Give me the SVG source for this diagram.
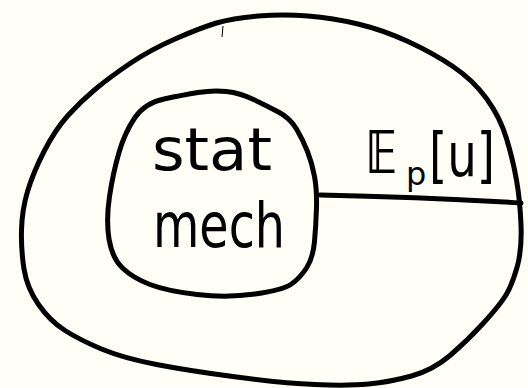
<svg xmlns="http://www.w3.org/2000/svg" width="528" height="388" viewBox="0 0 528 388">
  <style>
    .ink { fill: none; stroke: #000; stroke-width: 5; stroke-linecap: round; stroke-linejoin: round; }
    .hand { font-family: "DejaVu Sans", "Liberation Sans", sans-serif; fill: #000; }
  </style>
  <rect width="528" height="388" fill="#fffff8"/>

  <!-- outer region -->
  <g id="outer">
    <path class="ink" d="M216.5,23 Q233,18 258,16 Q283,14 308,16 Q333,18 358,24 Q383,30 408,41.5 Q433,53 453,66.5 Q473,80 486.5,98.5 Q500,117 506.5,138.5 Q513,160 516.5,180 Q520,200 521,225 Q522,250 517,267.5 Q512,285 506,295 Q500,305 483.5,323 Q467,341 450,355.5 Q433,370 411.5,376 Q390,382 368.5,384 Q347,386 315,384.5 Q283,383 236.5,377 Q190,371 156.5,364.5 Q123,358 101.5,349 Q80,340 65,330.5 Q50,321 38.5,304.5 Q27,288 24,269 Q21,250 21.5,230 Q22,210 27.5,191.5 Q33,173 44,151.5 Q55,130 67.5,116 Q80,102 95,89.5 Q110,77 130,63.5 Q150,50 175,39 Q200,28 216.5,23 Z"/>
    <path d="M223,26 L222,37" stroke="#000" stroke-width="1" fill="none"/>
  </g>

  <!-- inner region -->
  <g id="inner">
    <path class="ink" d="M198,92.5 Q213,90 226.5,91.5 Q240,93 253.5,99.5 Q267,106 278.5,112 Q290,118 296.5,129 Q303,140 307.5,151.5 Q312,163 314.5,176.5 Q317,190 316.5,207.5 Q316,225 314.5,241.5 Q313,258 306.5,268 Q300,278 291.5,284 Q283,290 255,294 Q227,298 197,294.5 Q167,291 150,284.5 Q133,278 122.5,268 Q112,258 109,239 Q106,220 109.5,196.5 Q113,173 119,152.5 Q125,132 135,117.5 Q145,103 164,99 Q183,95 198,92.5 Z"/>
    <text class="hand" x="152" y="170" font-size="58" textLength="120" lengthAdjust="spacingAndGlyphs">stat</text>
    <text class="hand" x="153" y="247" font-size="62" textLength="132" lengthAdjust="spacingAndGlyphs">mech</text>
  </g>

  <!-- divider between the rings -->
  <g id="connectors">
    <path class="ink" d="M320,195 Q420,197 521,203"/>
  </g>

  <!-- expectation label -->
  <g id="expectation">
    <text class="hand" x="366" y="173" font-size="58" font-weight="bold" textLength="32" lengthAdjust="spacingAndGlyphs">𝔼</text>
    <text class="hand" x="406" y="185" font-size="32">p</text>
    <text class="hand" x="429" y="176" font-size="60" textLength="66" lengthAdjust="spacingAndGlyphs">[u]</text>
  </g>
</svg>
